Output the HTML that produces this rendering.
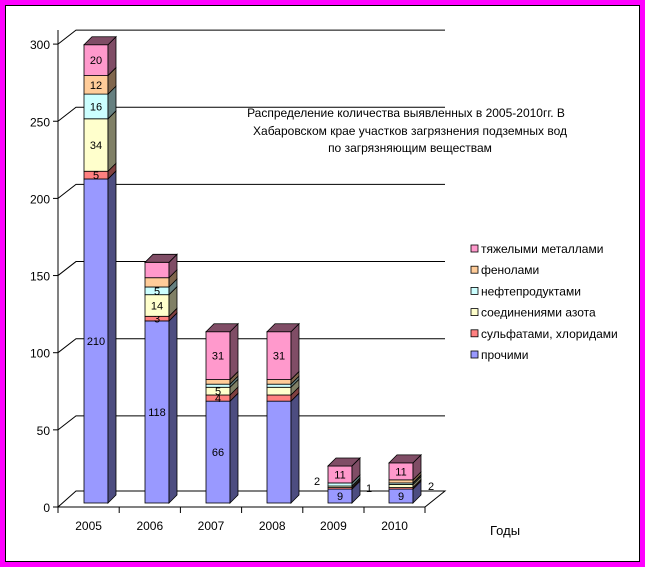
<!DOCTYPE html>
<html><head><meta charset="utf-8"><style>
body{margin:0;background:#fff}
svg{display:block;font-family:"Liberation Sans",sans-serif}
</style></head><body>
<svg id="c" width="645" height="567" viewBox="0 0 645 567">
<rect x="2.5" y="2.5" width="640" height="562" fill="#fff" stroke="#ff00ff" stroke-width="5"/>
<rect x="5.5" y="5.5" width="634" height="556" fill="none" stroke="#000" stroke-width="1"/>
<g id="grid"></g><g id="bars"></g><g id="axes"></g>
<g font-size="12" text-anchor="middle">
<text x="406" y="117">Распределение  количества выявленных в 2005-2010гг. В</text>
<text x="410" y="135">Хабаровском крае  участков загрязнения подземных вод</text>
<text x="410" y="152">по загрязняющим  веществам</text>
</g>
<text x="490" y="535" font-size="13">Годы</text>
<g id="legend"></g>
</svg>
<script>
const years=["2005","2006","2007","2008","2009","2010"];
const prochie=[210,118,66,66,9,9];
const sulfat=[5,3,4,4,1,1];
const azot=[34,14,5,5,1,2];
const neft=[16,5,2,2,2,1];
const fenol=[12,6,3,3,0,2];
const metal=[20,10,31,31,11,11];
const yTicks=[0,50,100,150,200,250,300];
const seriesNames=["прочими","сульфатами, хлоридами","соединениями азота","нефтепродуктами","фенолами","тяжелыми металлами"];
const series=[prochie,sulfat,azot,neft,fenol,metal];
const showLabel=[[1,1,1,1,1,1],[1,1,1,1,0,0],[1,1,1,1,0,1],[0,0,0,0,0,1],[1,1,1,1,0,1],[1,1,1,1,1,1]];
const fills=["#9999ff","#ff8080","#ffffcc","#ccffff","#ffcc99","#ff99cc"];
const sides=["#4d4d80","#804040","#808066","#668080","#80664d","#804d66"];
const NS="http://www.w3.org/2000/svg";
const svg=document.getElementById('c');
const k=1.543, base=503, DX=8, DY=8;
const y=v=>base-v*k;
const xb=i=>84+i*61;
function mk(t,a,p){const e=document.createElementNS(NS,t);for(const n in a)e.setAttribute(n,a[n]);p.appendChild(e);return e;}
const grid=document.getElementById('grid');
yTicks.forEach(t=>{
  const yy=507-t*1.543;
  if(t>0){const l=mk('polyline',{points:`58,${yy} 76,${yy-14} 445,${yy-14}`,fill:'none',stroke:'#000','stroke-width':1},grid);
  }
});
mk('polygon',{points:'58,507 425,507 445,491 76,491',fill:'#fff',stroke:'#000'},grid);
const bars=document.getElementById('bars');
years.forEach((yr,i)=>{
  let cum=0;const x=xb(i),w=24;
  series.forEach((s,j)=>{
    const v=s[i];if(v<=0)return;
    const y0=y(cum),y1=y(cum+v);cum+=v;
    const r=mk('rect',{x:x,y:y1,width:w,height:y0-y1,fill:fills[j],stroke:'#000','stroke-width':0.8},bars);
    
    
    mk('polygon',{points:`${x+w},${y0} ${x+w+DX},${y0-DY} ${x+w+DX},${y1-DY} ${x+w},${y1}`,fill:sides[j],stroke:'#000','stroke-width':0.8},bars);
    if(cum===series.reduce((a,ss)=>a+ss[i],0))
      mk('polygon',{points:`${x},${y1} ${x+DX},${y1-DY} ${x+w+DX},${y1-DY} ${x+w},${y1}`,fill:sides[j],stroke:'#000','stroke-width':0.8},bars);
    if(showLabel[i][j]&&(y0-y1)>4){
      const t=mk('text',{x:x+w/2,y:(y0+y1)/2+4,'font-size':11,'text-anchor':'middle'},bars);t.textContent=v;
      
      
    }
  });
});
[[314,485,"2"],[366,492,"1"],[428,490,"2"]].forEach(a=>{const t=mk('text',{x:a[0],y:a[1],'font-size':11},bars);t.textContent=a[2];});
const ax=document.getElementById('axes');
mk('line',{x1:58,y1:30,x2:58,y2:507,stroke:'#000'},ax);
mk('line',{x1:58,y1:507,x2:425,y2:507,stroke:'#000'},ax);
yTicks.forEach(t=>{const yy=507-t*1.543;
  mk('line',{x1:53,y1:yy,x2:58,y2:yy,stroke:'#000'},ax);
  const tx=mk('text',{x:50,y:yy+5,'font-size':12,'text-anchor':'end'},ax);tx.textContent=t;
  
  
});
years.forEach((yr,i)=>{
  const tx0=58+i*61.2;
  mk('line',{x1:tx0,y1:507,x2:tx0,y2:513,stroke:'#000'},ax);
  const t=mk('text',{x:tx0+30.6,y:530,'font-size':12,'text-anchor':'middle'},ax);t.textContent=yr;
  
  
});
mk('line',{x1:425,y1:507,x2:425,y2:513,stroke:'#000'},ax);
const lg=document.getElementById('legend');
for(let j=5;j>=0;j--){
  const yy=249+(5-j)*21.2;
  const g=mk('g',{},lg);
  
  
  mk('rect',{x:471,y:yy-4,width:7,height:7,fill:fills[j],stroke:'#000','stroke-width':0.8},g);
  const t=mk('text',{x:481,y:yy+4,'font-size':12},g);t.textContent=seriesNames[j];
}
</script>
</body></html>
